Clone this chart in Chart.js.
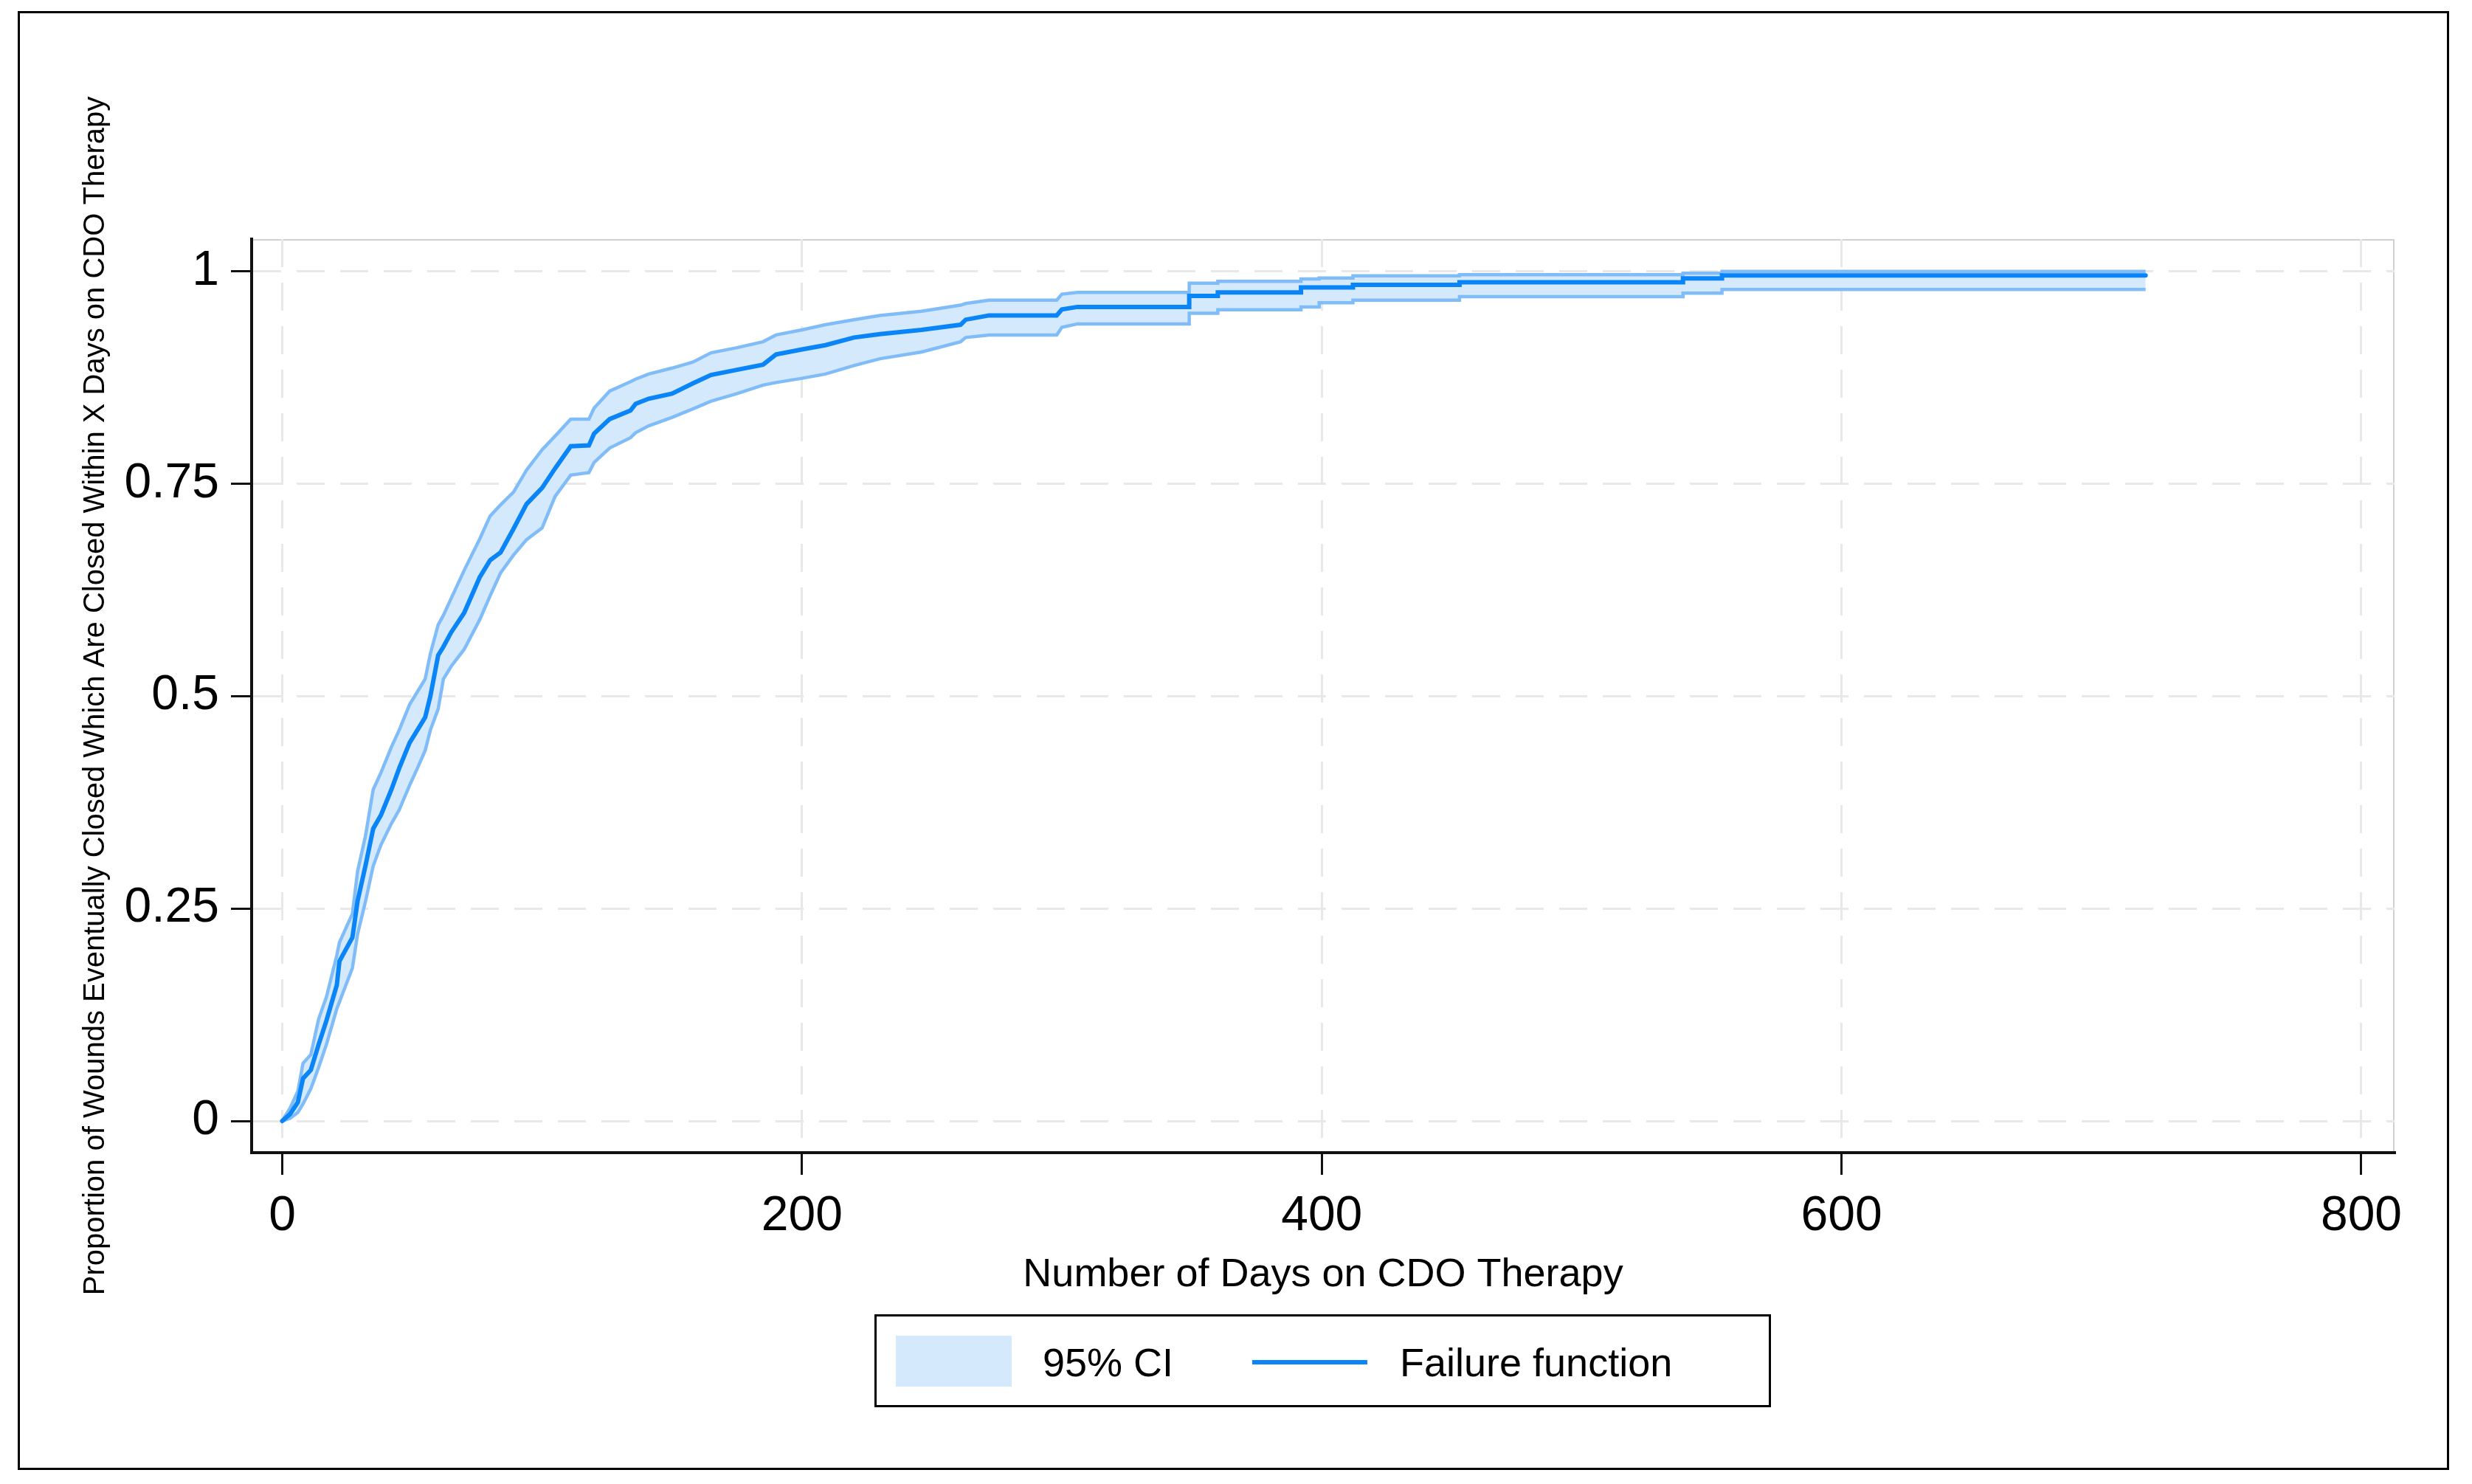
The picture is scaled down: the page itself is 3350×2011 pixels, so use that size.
<!DOCTYPE html>
<html>
<head>
<meta charset="utf-8">
<script src="https://cdn.jsdelivr.net/npm/chart.js@4.4.1/dist/chart.umd.min.js"></script>
<style>
  html, body { margin: 0; padding: 0; background: #ffffff; }
  #wrap { width: 3350px; height: 2011px; position: relative; }
</style>
</head>
<body>
<div id="wrap"><canvas id="c" width="3350" height="2011"></canvas></div>
<script>
// ---- Data ----
const days = [0, 3, 6, 8, 11, 14, 17, 21, 22, 27, 29, 32, 35, 38, 42, 45, 49, 52, 55, 57, 60, 62, 65, 70, 76, 80, 84, 89, 94, 100, 105, 111, 118, 120, 126, 134, 136, 141, 150, 158, 165, 175, 185, 190, 200, 209, 220, 230, 246, 261, 263, 272, 298, 300, 306, 349, 349, 360, 360, 392, 392, 399, 399, 412, 412, 453, 453, 539, 539, 554, 554, 717];
const failure = [0, 0.008, 0.022, 0.050, 0.060, 0.090, 0.118, 0.160, 0.188, 0.216, 0.259, 0.300, 0.344, 0.360, 0.390, 0.415, 0.445, 0.460, 0.475, 0.500, 0.548, 0.558, 0.575, 0.598, 0.640, 0.660, 0.669, 0.697, 0.726, 0.745, 0.768, 0.794, 0.795, 0.809, 0.826, 0.836, 0.844, 0.850, 0.856, 0.868, 0.878, 0.884, 0.890, 0.902, 0.908, 0.913, 0.922, 0.926, 0.931, 0.937, 0.943, 0.948, 0.948, 0.955, 0.958, 0.958, 0.971, 0.971, 0.975, 0.975, 0.981, 0.981, 0.981, 0.981, 0.984, 0.984, 0.987, 0.987, 0.9916, 0.9916, 0.995, 0.995];
const ciUpper = [0, 0.015, 0.035, 0.068, 0.078, 0.120, 0.146, 0.195, 0.210, 0.244, 0.294, 0.335, 0.390, 0.410, 0.440, 0.460, 0.490, 0.505, 0.520, 0.550, 0.584, 0.595, 0.615, 0.648, 0.685, 0.712, 0.725, 0.740, 0.766, 0.790, 0.806, 0.826, 0.826, 0.839, 0.859, 0.870, 0.873, 0.879, 0.886, 0.893, 0.904, 0.910, 0.917, 0.925, 0.931, 0.937, 0.943, 0.948, 0.953, 0.960, 0.962, 0.966, 0.966, 0.973, 0.975, 0.975, 0.986, 0.986, 0.988, 0.988, 0.991, 0.991, 0.992, 0.992, 0.9945, 0.9945, 0.996, 0.996, 0.9977, 0.9977, 0.9997, 0.9997];
const ciLower = [0, 0.003, 0.010, 0.020, 0.038, 0.063, 0.090, 0.132, 0.140, 0.180, 0.220, 0.258, 0.300, 0.325, 0.350, 0.366, 0.395, 0.415, 0.436, 0.460, 0.485, 0.520, 0.535, 0.555, 0.590, 0.618, 0.645, 0.666, 0.684, 0.698, 0.735, 0.760, 0.763, 0.775, 0.792, 0.804, 0.810, 0.818, 0.828, 0.838, 0.847, 0.856, 0.866, 0.869, 0.874, 0.879, 0.889, 0.897, 0.905, 0.917, 0.922, 0.925, 0.925, 0.934, 0.938, 0.938, 0.9505, 0.9505, 0.9546, 0.9546, 0.958, 0.958, 0.963, 0.963, 0.966, 0.966, 0.970, 0.970, 0.9742, 0.9742, 0.9786, 0.9786];

const xTicks = [0, 200, 400, 600, 800];
const yTicks = [0, 0.25, 0.5, 0.75, 1];
const yTickLabels = ['0', '0.25', '0.5', '0.75', '1'];
const xTitle = 'Number of Days on CDO Therapy';
const yTitle = 'Proportion of Wounds Eventually Closed Which Are Closed Within X Days on CDO Therapy';
const ciLabel = '95% CI';
const lineLabel = 'Failure function';

// ---- Styles ----
const FONT = '"Liberation Sans", Arial, Helvetica, sans-serif';
const mainColor = '#0a85f8';
const ciLineColor = '#80bdf8';
const ciFillColor = '#d5e9fc';
const gridColor = '#e8e8e8';

const toXY = (xs, ys) => xs.map((x, i) => ({ x: x, y: ys[i] }));

Chart.defaults.font.family = FONT;
Chart.defaults.color = '#000';

const framePlugin = {
  id: 'frame',
  beforeDraw(chart) {
    const ctx = chart.ctx;
    ctx.save();
    ctx.fillStyle = '#fff';
    ctx.fillRect(0, 0, chart.width, chart.height);
    ctx.strokeStyle = '#000';
    ctx.lineWidth = 3;
    ctx.strokeRect(25.5, 16.5, 3292, 1974);
    const a = chart.chartArea;
    ctx.strokeStyle = '#d0d0d0';
    ctx.lineWidth = 2;
    ctx.strokeRect(a.left, a.top + 1, a.right - a.left - 1, a.bottom - a.top);
    ctx.restore();
  },
  afterDraw(chart) {
    // legend box drawn from the datasets' own labels and colours
    const ctx = chart.ctx;
    const ci = chart.data.datasets[0];
    const ln = chart.data.datasets[2];
    ctx.save();
    ctx.strokeStyle = '#000';
    ctx.lineWidth = 3;
    ctx.strokeRect(1186.5, 1782.5, 1212, 123);
    ctx.fillStyle = ci.backgroundColor;
    ctx.fillRect(1214, 1810, 157, 69);
    ctx.font = '54px ' + FONT;
    ctx.fillStyle = '#000';
    ctx.textBaseline = 'middle';
    ctx.textAlign = 'left';
    ctx.fillText(ci.label, 1413, 1850);
    ctx.strokeStyle = ln.borderColor;
    ctx.lineWidth = 6;
    ctx.beginPath();
    ctx.moveTo(1697, 1846);
    ctx.lineTo(1853, 1846);
    ctx.stroke();
    ctx.fillText(ln.label, 1897, 1850);
    ctx.restore();
  }
};

new Chart(document.getElementById('c'), {
  type: 'line',
  data: {
    datasets: [
      {
        label: ciLabel,
        data: toXY(days, ciUpper),
        borderColor: ciLineColor,
        backgroundColor: ciFillColor,
        borderWidth: 4.5,
        pointRadius: 0,
        fill: '+1',
        order: 2
      },
      {
        label: ciLabel + ' lower',
        data: toXY(days, ciLower),
        borderColor: ciLineColor,
        backgroundColor: ciFillColor,
        borderWidth: 4.5,
        pointRadius: 0,
        fill: false,
        order: 1
      },
      {
        label: lineLabel,
        data: toXY(days, failure),
        borderColor: mainColor,
        backgroundColor: mainColor,
        borderWidth: 6,
        borderCapStyle: 'round',
        pointRadius: 0,
        fill: false,
        order: 0
      }
    ]
  },
  options: {
    responsive: false,
    animation: false,
    devicePixelRatio: 1,
    layout: { padding: { left: 0, top: 324, right: 105, bottom: 249 } },
    plugins: {
      legend: { display: false },
      tooltip: { enabled: false },
      title: { display: false }
    },
    elements: { line: { tension: 0 } },
    scales: {
      x: {
        type: 'linear',
        min: -11.78,
        max: 812.78,
        afterBuildTicks: (axis) => { axis.ticks = xTicks.map(v => ({ value: v })); },
        afterFit: (scale) => { scale.height = 200; },
        ticks: {
          font: { size: 66 },
          color: '#000',
          padding: 17,
          maxRotation: 0,
          autoSkip: false,
          callback: (v) => String(v)
        },
        grid: {
          color: gridColor,
          lineWidth: 3,
          drawTicks: true,
          tickLength: 30,
          tickColor: '#111',
          tickWidth: 3
        },
        border: { display: true, color: '#111', width: 4, dash: [38, 21] },
        title: {
          display: true,
          text: xTitle,
          font: { size: 54 },
          color: '#000',
          padding: { top: 0, bottom: 1 }
        }
      },
      y: {
        type: 'linear',
        min: -0.0373,
        max: 1.0378,
        afterBuildTicks: (axis) => { axis.ticks = yTicks.map(v => ({ value: v })); },
        afterFit: (scale) => { scale.width = 341; },
        ticks: {
          font: { size: 66 },
          color: '#000',
          padding: 16,
          autoSkip: false,
          callback: (v) => { const i = yTicks.indexOf(v); return i >= 0 ? yTickLabels[i] : ''; }
        },
        grid: {
          color: gridColor,
          lineWidth: 3,
          drawTicks: true,
          tickLength: 28,
          tickColor: '#111',
          tickWidth: 3
        },
        border: { display: true, color: '#111', width: 4, dash: [38, 21] },
        title: {
          display: true,
          text: yTitle,
          font: { size: 40 },
          color: '#000',
          padding: { top: 106, bottom: 0 }
        }
      }
    }
  },
  plugins: [framePlugin]
});
</script>
</body>
</html>
